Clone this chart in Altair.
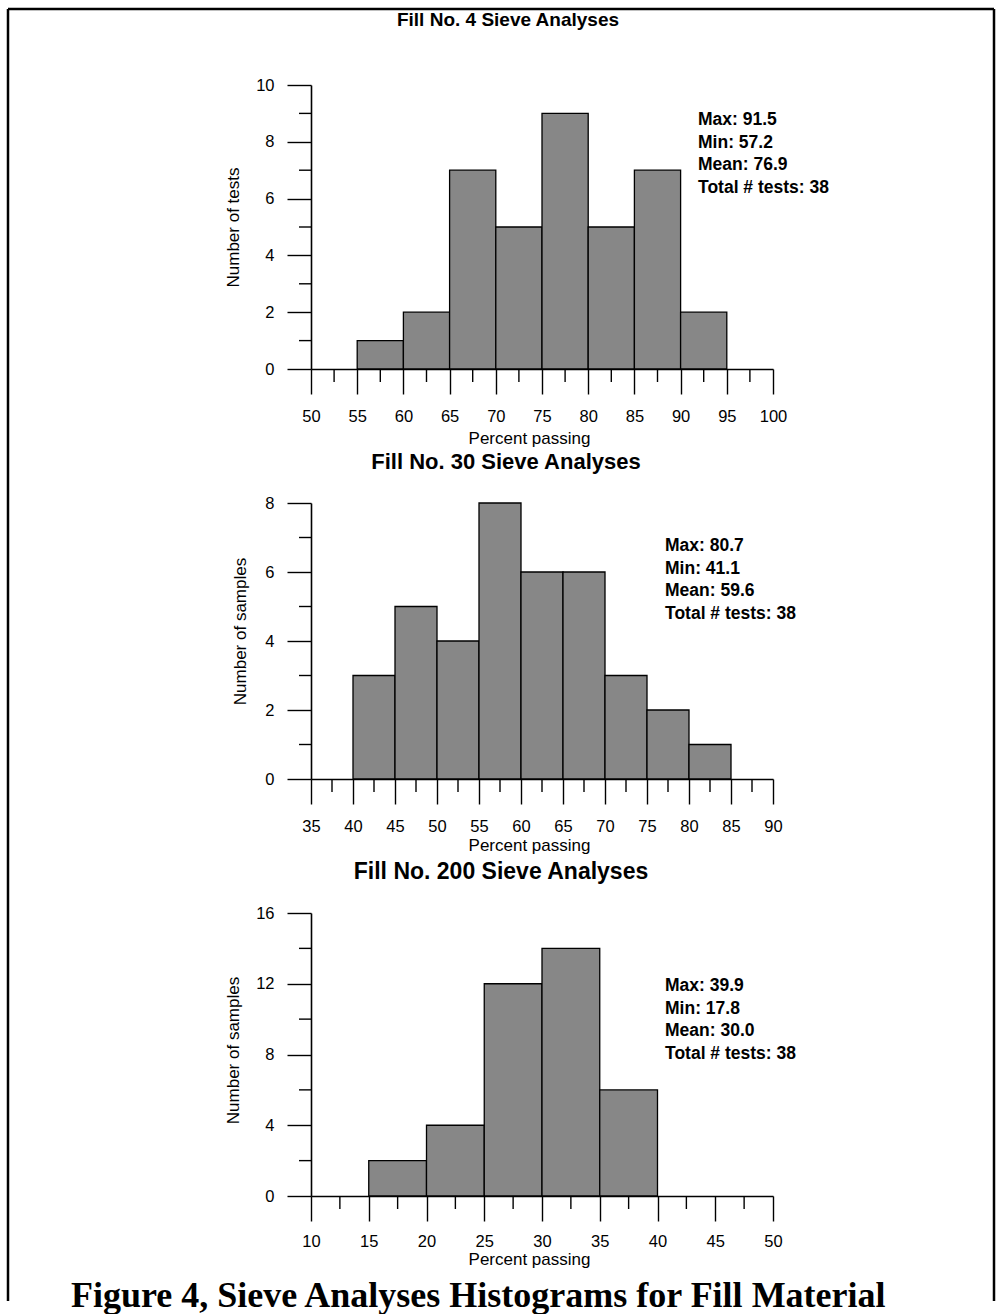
import altair as alt
import pandas as pd

SANS = "Liberation Sans, Arial, sans-serif"
SERIF = "Liberation Serif, Times New Roman, serif"

# ---------------- data ----------------
panel_titles = ["Fill No. 4 Sieve Analyses", "Fill No. 30 Sieve Analyses", "Fill No. 200 Sieve Analyses"]
y_titles = ["Number of tests", "Number of samples", "Number of samples"]
x_title = "Percent passing"
caption = "Figure 4, Sieve Analyses Histograms for Fill Material"
bin_width = 5

p1_bin_start = [55, 60, 65, 70, 75, 80, 85, 90]
p1_counts = [1, 2, 7, 5, 9, 5, 7, 2]
p1_x_ticks = [50, 55, 60, 65, 70, 75, 80, 85, 90, 95, 100]
p1_x_minor = [52.5, 57.5, 62.5, 67.5, 72.5, 77.5, 82.5, 87.5, 92.5, 97.5]
p1_y_ticks = [0, 2, 4, 6, 8, 10]
p1_y_minor = [1, 3, 5, 7, 9]
p1_stats = [91.5, 57.2, 76.9, 38]

p2_bin_start = [40, 45, 50, 55, 60, 65, 70, 75, 80]
p2_counts = [3, 5, 4, 8, 6, 6, 3, 2, 1]
p2_x_ticks = [35, 40, 45, 50, 55, 60, 65, 70, 75, 80, 85, 90]
p2_x_minor = [37.5, 42.5, 47.5, 52.5, 57.5, 62.5, 67.5, 72.5, 77.5, 82.5, 87.5]
p2_y_ticks = [0, 2, 4, 6, 8]
p2_y_minor = [1, 3, 5, 7]
p2_stats = [80.7, 41.1, 59.6, 38]

p3_bin_start = [15, 20, 25, 30, 35]
p3_counts = [2, 4, 12, 14, 6]
p3_x_ticks = [10, 15, 20, 25, 30, 35, 40, 45, 50]
p3_x_minor = [12.5, 17.5, 22.5, 27.5, 32.5, 37.5, 42.5, 47.5]
p3_y_ticks = [0, 4, 8, 12, 16]
p3_y_minor = [2, 6, 10, 14]
p3_stats = [39.9, 17.8, 30.0, 38]

W = 462
one = pd.DataFrame({"k": [0]})


def stats_lines(s):
    return [f"Max: {s[0]:.1f}", f"Min: {s[1]:.1f}", f"Mean: {s[2]:.1f}", f"Total # tests: {s[3]}"]


def panel(title, ytitle, starts, counts, xt, xm, yt, ym, stats, h, lay):
    df = pd.DataFrame({"start": starts,
                       "end": [s + bin_width for s in starts],
                       "count": counts})
    xs = alt.Scale(domain=[xt[0], xt[-1]], nice=False, zero=False)
    ys = alt.Scale(domain=[yt[0], yt[-1]], nice=False, zero=True)
    xaxis = alt.Axis(values=xt, format="d", grid=False,
                     domainColor="black", domainWidth=1.6,
                     tickColor="black", tickWidth=1.4, tickSize=25,
                     labelFont=SANS, labelFontSize=16.5, labelColor="black",
                     labelPadding=lay.get("xlp", 14), labelFlush=False, labelOverlap=False,
                     labelBound=False,
                     title=x_title, titleFont=SANS, titleFontSize=17, titleFontWeight="normal",
                     titleColor="black", titleX=lay["xtx"], titleY=lay.get("xty", 69),
                     titleBaseline="middle", titleAlign="center")
    yaxis = alt.Axis(values=yt, format="d", grid=False,
                     domainColor="black", domainWidth=1.6,
                     tickColor="black", tickWidth=1.4, tickSize=24,
                     labelFont=SANS, labelFontSize=16.5, labelColor="black",
                     labelPadding=13, labelFlush=False, labelOverlap=False, labelBound=False,
                     title=ytitle, titleFont=SANS, titleFontSize=17, titleFontWeight="normal",
                     titleColor="black", titleAngle=270, titleX=lay["ytx"], titleY=lay["yty"],
                     titleBaseline="middle", titleAlign="center")
    bars = alt.Chart(df).mark_bar(color="#878787", stroke="black", strokeWidth=1.3).encode(
        x=alt.X("start:Q", scale=xs, axis=xaxis),
        x2="end:Q",
        y=alt.Y("count:Q", scale=ys, axis=yaxis),
        y2=alt.datum(0),
    )
    xminor = alt.Chart(pd.DataFrame({"v": xm})).mark_rule(color="black", strokeWidth=1.4).encode(
        x=alt.X("v:Q", scale=xs, axis=xaxis),
        y=alt.value(h), y2=alt.value(h + 13),
    )
    yminor = alt.Chart(pd.DataFrame({"c": ym})).mark_rule(color="black", strokeWidth=1.4).encode(
        y=alt.Y("c:Q", scale=ys, axis=yaxis),
        x=alt.value(-12), x2=alt.value(0),
    )
    stats_txt = alt.Chart(one).mark_text(
        align="left", baseline="top", font=SANS, fontSize=17.5, fontWeight="bold",
        lineHeight=22.5, color="black").encode(
        x=alt.value(lay["sx"]), y=alt.value(lay["sy"]), text=alt.value(stats_lines(stats)))
    ttl = alt.Chart(one).mark_text(
        align="center", baseline="middle", font=SANS, fontSize=lay["tfs"], fontWeight="bold",
        color="black").encode(
        x=alt.value(lay["tx"]), y=alt.value(lay["ty"]), text=alt.value(title))
    layers = [bars, xminor, yminor, stats_txt, ttl] + lay.get("extra", [])
    return alt.layer(*layers).properties(width=W, height=h)


# page border and caption
border = [
    alt.Chart(one).mark_rule(color="black", strokeWidth=2.5).encode(
        x=alt.value(-303), x2=alt.value(683), y=alt.value(-76)),
    alt.Chart(one).mark_rule(color="black", strokeWidth=2.5).encode(
        x=alt.value(-303), y=alt.value(-76), y2=alt.value(1216)),
    alt.Chart(one).mark_rule(color="black", strokeWidth=2.5).encode(
        x=alt.value(683), y=alt.value(-76), y2=alt.value(1216)),
]
cap = [alt.Chart(one).mark_text(
    align="left", baseline="alphabetic", font=SERIF, fontSize=36, fontWeight="bold",
    color="black").encode(x=alt.value(-240), y=alt.value(394), text=alt.value(caption))]

c1 = panel(panel_titles[0], y_titles[0], p1_bin_start, p1_counts, p1_x_ticks, p1_x_minor,
           p1_y_ticks, p1_y_minor, p1_stats, 284,
           dict(xtx=218, ytx=-78, yty=142, sx=387, sy=26, tfs=19, tx=197, ty=-65, extra=border))
c2 = panel(panel_titles[1], y_titles[1], p2_bin_start, p2_counts, p2_x_ticks, p2_x_minor,
           p2_y_ticks, p2_y_minor, p2_stats, 276,
           dict(xtx=218, xty=66, ytx=-71, yty=128, sx=354, sy=34, tfs=22, tx=195, ty=-41))
c3 = panel(panel_titles[2], y_titles[2], p3_bin_start, p3_counts, p3_x_ticks, p3_x_minor,
           p3_y_ticks, p3_y_minor, p3_stats, 283,
           dict(xtx=218, xty=63, xlp=12, ytx=-78, yty=137, sx=354, sy=64, tfs=23, tx=190,
                ty=-41, extra=cap))

chart = alt.vconcat(c1, c2, c3, spacing=134, bounds="flush").properties(
    padding={"left": 6, "top": 7, "right": 0, "bottom": 0},
    background="white",
).configure_view(stroke=None)

chart.save("out.html", embed_options={"renderer": "svg", "actions": False})
